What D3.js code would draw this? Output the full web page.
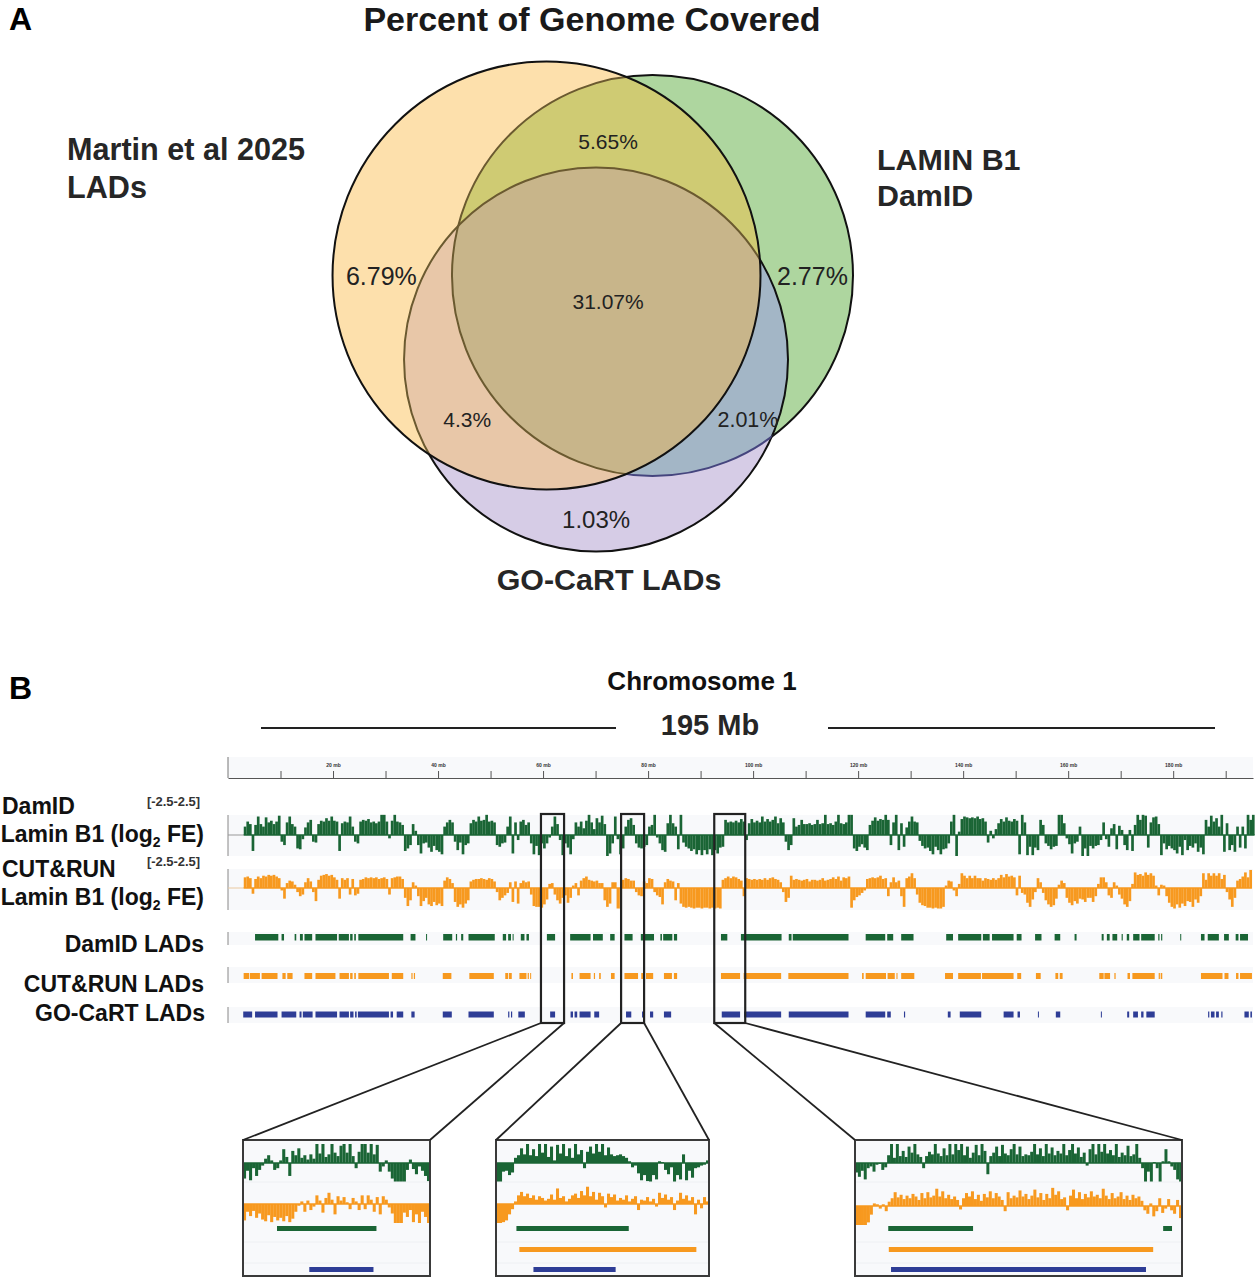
<!DOCTYPE html>
<html><head><meta charset="utf-8">
<script src="https://cdn.jsdelivr.net/npm/d3@7/dist/d3.min.js"></script>
<style>html,body{margin:0;padding:0;background:#fff}svg{display:block}text{font-family:"Liberation Sans",Arial,sans-serif}</style>
</head><body><svg id="c" width="1255" height="1280"></svg>
<script>
// ---------- Panel A data ----------
const vennNames = ["Martin et al 2025 LADs","LAMIN B1 DamID","GO-CaRT LADs"];
const vennCx = [41.06,61.44,50.58];
const vennCy = [41.25,41.25,57.4];
const vennR  = [41.15,38.56,36.92];
const vennLabels = ["6.79%","5.65%","2.77%","31.07%","4.3%","2.01%","1.03%"];
const vennLabelX = [9.3,52.9,92.2,52.9,25.8,79.8,50.6];
const vennLabelY = [41.4,15.4,41.4,46.2,69.0,69.0,88.1];
const vennLabelSize = [25,21,25,21,21,21.5,24];

// ---------- Panel B data ----------
const axisTicks = [10,20,30,40,50,60,70,80,90,100,110,120,130,140,150,160,170,180,190];
const signalStartMb = 3, signalBinMb = 0.5;
const damidSignal = [
1.0,1.6,1.3,-1.9,1.2,2.2,1.3,1.0,2.1,1.5,1.7,1.3,1.6,2.3,-0.8,-1.2,1.5,2.2,1.3,1.0,
-1.6,-1.7,-0.5,0.9,1.5,1.8,-0.8,-0.9,1.3,1.7,1.6,2.0,1.7,2.2,1.7,1.6,-1.9,1.4,1.6,1.5,
2.2,1.0,-0.8,-1.0,1.6,1.8,1.7,1.9,1.5,1.6,1.4,1.6,2.4,2.4,1.6,-0.4,1.7,2.4,1.6,1.5,
1.2,-1.9,-1.6,-1.2,1.3,0.5,-1.2,-2.2,-1.0,-0.9,-1.5,-2.0,-1.3,-1.8,-2.0,-2.3,1.0,1.5,1.8,1.5,
-0.8,-1.8,-0.9,-2.3,-1.2,-1.0,1.4,1.8,1.6,2.2,1.7,1.8,2.4,1.6,1.7,1.5,-1.2,-1.4,-1.0,-0.9,
1.0,2.2,-2.2,1.5,-0.6,1.6,1.8,1.2,1.5,-1.0,-2.3,-1.3,-2.4,-1.0,-1.6,-1.0,-0.3,1.0,2.2,1.3,
-0.6,-2.4,-1.0,-1.5,-2.3,-0.5,1.5,1.0,1.6,0.8,1.7,2.4,1.5,0.7,2.0,1.5,2.3,1.3,-2.5,-2.2,
-1.0,2.2,-0.5,-2.3,-1.6,1.0,1.8,2.0,1.2,-1.0,-1.5,-1.6,-1.4,-1.2,1.0,1.2,2.4,-0.3,-1.0,-1.8,
-2.0,1.4,2.4,1.4,1.0,-1.7,2.4,-0.9,-1.4,-1.6,-1.9,-1.7,-2.3,-1.8,-2.4,-1.8,-2.3,-1.7,-2.4,-1.8,
-2.2,-1.5,-1.4,1.8,1.5,1.6,1.5,1.7,1.5,1.9,1.6,-0.6,1.4,1.9,1.5,1.7,1.5,2.2,1.6,1.9,
1.6,1.8,2.2,1.4,2.0,1.5,-0.8,-1.8,-1.2,2.0,1.0,1.2,1.8,1.3,1.3,1.4,1.2,1.3,1.8,1.3,
1.4,2.4,1.3,1.4,1.2,1.6,2.4,1.4,1.3,1.5,2.4,2.4,-1.6,-1.9,-1.4,-1.1,-1.5,-1.8,1.2,1.7,
2.1,1.7,1.9,1.8,2.4,1.8,-1.2,1.5,2.4,-1.8,1.4,-1.4,0.9,1.6,2.2,1.6,1.5,-0.7,-1.3,-1.6,
-1.5,-1.9,-2.3,-1.4,-1.8,-2.3,-1.7,-1.6,-1.0,1.6,2.4,-2.5,0.4,1.9,2.2,2.1,2.0,2.1,2.0,2.2,
1.9,2.0,1.6,-0.9,0.5,-0.4,0.7,1.4,1.9,1.6,2.1,1.7,1.6,1.9,1.7,-2.3,2.4,1.5,-2.4,-1.4,
-2.4,-1.5,-1.8,1.8,1.2,-1.0,-1.3,-1.7,-1.4,-1.3,2.4,2.4,1.4,-0.4,-1.1,-2.2,-1.0,-0.8,1.0,-2.5,
-1.6,-2.5,-1.3,-1.6,-1.3,-1.2,-0.6,1.5,-0.5,-1.4,0.8,1.3,-1.7,1.1,0.6,-1.2,-1.8,0.6,-1.9,1.2,
2.4,1.8,2.4,2.3,-1.5,1.5,2.1,2.2,1.3,-2.4,-1.0,-1.7,-1.3,-1.6,-1.8,-2.2,-1.4,-2.4,-0.6,-1.8,
-1.3,-1.5,-1.0,-2.0,-1.5,-2.3,1.8,1.0,2.3,1.6,2.0,1.0,2.4,-2.0,1.4,-1.8,-1.2,-2.0,1.0,-1.5,
1.0,-1.6,2.4,1.8,2.4];
const cutrunSignal = [
1.3,1.4,1.2,-0.7,1.1,1.4,1.2,1.5,1.4,1.6,1.5,1.6,1.4,1.2,-0.3,-1.3,0.6,0.9,0.8,0.4,
-0.5,-1.0,-0.8,0.7,1.2,0.8,-0.5,-1.6,1.0,1.5,1.6,1.7,1.5,1.6,1.3,1.0,-1.3,1.2,1.0,1.2,
-0.8,1.1,-0.9,-0.7,1.0,1.1,1.3,1.2,1.3,1.2,1.3,1.1,1.2,1.3,1.1,-0.8,1.2,1.3,1.4,1.4,
1.1,-1.2,-2.2,-1.5,0.7,0.3,-1.0,-2.2,-1.6,-1.2,-2.0,-2.2,-1.7,-2.1,-1.9,-2.2,0.9,1.3,1.1,0.6,
-1.7,-2.3,-2.0,-2.4,-1.9,-1.5,0.8,1.0,1.1,1.1,1.2,1.1,1.0,1.2,1.1,0.8,-0.5,-1.5,-1.2,-0.9,
-0.6,0.7,-1.7,0.8,-1.9,0.6,0.9,0.7,0.8,-0.8,-2.2,-2.3,-2.3,-2.4,-2.0,-1.4,0.5,0.6,-0.8,-1.5,
-1.9,-1.2,-0.9,-1.8,-1.2,0.3,0.6,-0.9,0.9,1.2,1.4,1.0,0.9,0.8,0.9,0.6,0.6,-1.5,-2.3,-1.9,
0.7,0.7,-2.5,-2.5,1.0,1.2,1.1,0.9,0.9,-0.5,-0.9,-1.0,0.8,0.6,1.2,1.1,-0.5,-0.9,-1.1,-2.0,
0.7,1.1,0.9,0.8,-1.5,0.6,-1.9,-2.3,-2.4,-2.3,-2.4,-2.5,-2.4,-2.4,-2.5,-2.4,-2.4,-2.5,-2.4,-2.5,
-2.4,-2.5,1.0,1.2,1.4,1.2,1.4,1.3,1.1,0.9,-1.0,1.2,1.1,1.0,1.1,1.0,1.1,1.0,1.2,1.0,
1.2,1.3,1.1,1.0,0.7,-0.5,-1.7,-1.2,1.5,1.0,1.1,1.0,0.9,1.0,1.1,0.8,1.0,1.0,0.9,1.0,
1.2,0.9,1.0,1.1,1.3,1.1,1.4,0.9,1.3,1.2,1.4,-2.4,-1.5,-1.1,-0.9,-0.6,-0.3,1.1,1.2,1.3,
1.2,1.3,1.5,1.1,1.2,-1.0,0.7,1.3,0.7,0.9,-1.0,-2.3,1.2,1.4,1.8,1.2,-0.8,-1.8,-2.1,-2.2,
-2.4,-2.4,-2.5,-2.4,-2.5,-2.5,-2.3,0.3,0.9,0.8,-0.3,-1.0,0.5,1.8,1.5,1.2,1.5,1.2,1.5,1.2,
1.2,0.9,1.2,1.1,1.0,1.2,1.0,1.2,1.6,1.3,1.7,1.4,1.5,1.3,-0.9,1.5,-0.6,-0.8,-1.8,-2.3,
-1.4,-0.5,1.2,0.7,-0.6,-1.5,-2.0,-2.3,-2.1,-1.3,0.4,0.9,0.6,-1.2,-1.8,-2.1,-1.6,-1.9,-1.3,-1.4,
-1.7,-1.2,-1.2,-1.7,-1.0,0.5,1.3,1.3,0.7,-0.9,-1.2,0.7,0.3,-0.8,-1.3,-2.0,-2.3,-1.6,0.5,1.9,
1.6,1.7,1.5,1.9,1.6,1.8,1.5,0.3,-0.9,0.4,0.3,-1.0,-1.8,-2.3,-2.5,-2.0,-2.4,-1.9,-2.2,-1.6,
-1.7,-2.3,-1.4,-1.8,-1.0,1.8,1.0,1.8,1.5,1.8,1.5,1.8,1.1,1.6,-0.5,-1.4,-2.3,-1.2,0.9,1.1,
1.4,1.9,1.3,2.2];

const damidStart = [5.15,10.2,12.69,13.7,14.56,16.66,21.09,23.26,24.04,24.82,34.77,37.72,40.98,43.4,44.4,45.8,52.33,53.35,54.2,55.76,56.84,60.73,65.16,69.51,72.78,75.5,78.62,82.34,82.87,84.92,93.88,97.68,106.79,107.55,121.44,125.54,128.2,136.77,139.05,143.76,145.5,150.2,153.7,157.42,161.22,166.38,167.37,168.43,170.18,171.16,172.38,173.9,177.16,177.7,181.34,185.29,186.58,189.69,191.9,192.73];
const damidEnd   = [9.58,10.67,13.0,14.25,16.03,20.77,23.03,23.73,24.35,33.37,35.7,37.88,42.7,43.63,44.8,50.8,52.96,53.89,54.35,56.46,57.31,62.29,69.05,71.38,73.63,77.05,81.13,82.64,84.62,85.53,95.09,105.42,107.32,118.17,125.16,126.68,130.55,138.07,143.45,145.05,149.6,151.12,154.92,158.49,161.6,166.76,167.9,169.34,170.4,171.62,173.59,176.48,177.39,177.92,181.5,185.97,188.7,190.6,192.43,194.25];
const cutrunStart = [2.98,4.14,6.4,10.36,11.29,14.56,16.66,21.24,23.26,24.04,24.82,31.19,34.92,35.39,40.9,45.96,52.8,53.5,55.5,57.07,57.54,65.4,66.95,69.67,70.68,72.93,75.5,78.7,79.6,83.02,84.92,93.88,98.2,106.71,120.75,121.44,125.61,127.3,128.2,136.55,139.05,143.6,150.3,153.86,157.57,158.4,165.93,166.9,168.8,171.3,172.23,177.24,177.62,185.29,189.77,191.97,192.73];
const cutrunEnd   = [4.0,6.08,9.43,10.98,12.3,16.03,20.46,23.03,23.73,24.35,30.65,33.37,35.15,35.62,42.54,50.62,53.35,54.04,56.84,57.3,57.7,65.7,69.05,69.9,70.99,73.63,78.09,79.3,80.97,84.54,85.53,97.52,105.34,118.17,121.06,125.31,126.98,127.5,130.7,138.07,143.38,149.6,151.05,154.77,158.1,158.94,166.76,167.98,169.04,171.77,176.48,177.47,177.92,189.39,190.53,192.43,195];
const gocartStart = [2.9,5.15,10.2,13.62,14.25,16.66,21.24,23.26,24.2,24.74,30.96,32.13,34.92,40.9,45.8,53.35,53.89,55.29,61.35,65.24,66.0,66.95,69.75,75.8,78.85,80.37,83.02,94.03,98.28,106.79,121.44,125.54,128.73,137.08,139.36,147.71,150.36,154.24,157.65,166.23,171.24,172.38,173.9,174.89,186.65,187.19,188.17,189.16,193.57,194.7];
const gocartEnd   = [4.6,9.43,13.0,14.0,16.11,20.77,23.03,23.9,24.5,30.65,31.43,33.37,35.54,42.62,50.62,53.58,54.12,56.53,62.29,65.7,66.5,69.05,70.68,76.8,79.38,80.97,84.39,97.52,105.34,118.17,125.16,126.22,128.95,137.61,143.45,149.6,150.82,154.39,158.49,166.38,171.62,173.29,174.35,176.48,186.88,187.87,188.7,189.39,194.4,195];

const zoomStart = [59.6,74.86,92.6];
const zoomEnd   = [64.0,79.24,98.5];

const inset1Damid = [-1.8,-0.9,-2.0,-0.6,-1.5,-0.8,-0.3,0.5,0.9,0.3,-0.8,-0.6,0.3,1.6,0.7,-1.5,1.4,0.9,1.7,0.6,0.9,0.4,1.0,0.5,2.3,1.1,2.4,0.7,1.0,2.3,1.2,0.8,2.0,2.4,1.2,2.2,0.8,-0.6,1.3,2.4,2.4,1.2,2.2,1.0,2.1,-1.0,-0.4,0.3,-1.0,-1.8,-2.3,-2.4,-2.3,-2.4,-0.8,0.4,-0.7,-1.3,-0.4,-0.9,-1.5,-2.1];
const inset1Cutrun = [-1.9,-0.9,-1.4,-0.8,-1.6,-1.1,-1.8,-2.0,-1.3,-2.1,-1.5,-1.9,-1.6,-2.0,-1.4,-2.1,-1.7,-0.9,-0.2,0.3,-0.9,0.4,-0.7,-0.3,1.0,0.4,-1.0,0.7,1.3,0.5,-1.2,0.9,0.4,0.8,0.2,-0.6,0.7,0.3,-0.7,1.0,-0.6,1.0,0.5,-0.9,0.8,-1.2,0.9,0.5,-0.4,-1.1,-2.2,-2.4,-2.3,-1.0,-1.5,-0.7,-2.1,-1.2,-2.3,-0.9,-1.5,-2.2];
const inset2Damid = [-2.3,-2.3,-1.0,-0.9,-1.4,-1.1,0.6,0.9,1.7,1.0,2.3,0.9,1.6,0.8,2.2,1.2,2.2,0.7,1.9,0.3,2.1,1.1,2.3,0.8,1.7,0.6,2.2,1.0,1.5,-0.6,1.3,1.9,1.1,2.3,1.3,2.3,0.9,1.8,1.0,0.8,0.9,1.0,0.8,0.6,0.2,-0.5,-0.3,-1.2,-2.0,-1.4,-2.1,-2.4,-1.4,-1.9,0.2,0.1,-0.8,-1.3,-0.5,-2.2,-1.4,-1.9,1.0,-2.0,-0.9,-1.7,-0.6,-0.5,-0.3,-0.2,0.3];
const inset2Cutrun = [-2.4,-2.3,-2.1,-1.9,-1.2,-0.6,0.3,1.0,1.4,0.9,1.2,0.7,1.0,0.5,0.9,0.7,0.4,0.6,1.1,0.5,1.8,0.7,0.9,0.3,0.6,1.0,1.2,0.7,1.5,1.0,2.0,0.9,1.4,0.5,1.3,0.9,-0.4,1.2,0.8,1.1,0.4,0.7,0.5,1.0,0.3,0.6,0.9,-0.7,0.5,0.4,0.8,0.3,0.6,-0.3,1.3,0.7,1.1,0.5,0.8,-0.7,0.4,1.3,0.6,1.0,0.4,0.8,-1.2,0.5,-0.5,0.8,0.3];
const inset3Damid = [-1.1,-1.6,-0.9,-1.9,-0.6,-0.4,-1.0,-0.2,-0.1,-0.8,-0.5,0.9,2.3,0.6,2.4,0.8,1.4,0.7,1.9,1.2,2.4,1.0,0.7,-0.6,0.8,1.3,1.0,2.2,1.1,0.8,1.7,0.9,2.4,1.0,2.4,1.5,2.4,0.9,1.9,0.6,1.2,2.1,0.9,2.4,1.4,-1.3,0.8,1.2,1.9,0.8,2.1,1.1,0.9,1.6,2.4,1.0,1.9,0.8,1.0,0.9,1.3,2.4,1.0,1.7,0.8,2.3,1.1,1.8,0.9,1.4,1.1,2.2,0.9,1.5,2.4,1.1,1.8,0.7,1.2,-0.3,1.6,2.3,1.0,2.4,1.3,2.4,1.1,1.5,0.9,2.4,0.7,1.2,0.9,2.0,0.8,1.0,2.2,0.6,-0.6,-2.3,-1.0,-2.3,0.1,-0.6,-2.2,0.2,1.6,0.2,-0.4,-0.8,-1.9,-2.2];
const inset3Cutrun = [-2.4,-2.5,-2.3,-2.4,-1.9,-1.0,0.3,0.2,-0.3,0.2,-0.6,0.5,0.9,1.6,1.0,1.3,0.8,1.2,0.9,1.4,1.1,0.7,1.5,0.9,1.6,1.0,1.2,2.0,1.1,1.7,0.9,1.3,0.8,1.1,0.7,-0.4,0.9,1.5,1.1,1.7,0.8,1.3,0.6,1.4,1.0,1.7,0.9,1.5,1.1,0.7,-0.6,1.6,0.9,1.2,1.0,1.8,1.1,1.4,0.8,1.2,1.9,1.0,1.5,0.7,1.4,0.9,2.1,1.3,1.7,0.8,1.0,-0.5,1.2,1.9,0.9,1.6,0.8,1.4,1.0,1.7,1.1,1.3,0.9,2.0,1.2,0.8,1.5,0.9,1.1,1.6,0.8,1.2,0.7,1.3,0.9,1.1,0.6,-0.5,-0.9,0.3,-1.2,-0.6,0.9,-0.8,-0.3,0.8,-0.5,-0.9,0.7,-1.4];

// ---------- Drawing ----------
const svg = d3.select("#c");
const COL = {green:"#1a6535",orange:"#f7991f",blue:"#2e3d96",track:"#f8f9fb",ink:"#262626"};
function txt(x,y,s,size,opt={}){
  return svg.append("text").attr("x",x).attr("y",y).text(s)
    .attr("font-size",size).attr("font-weight",opt.bold===false?400:700)
    .attr("text-anchor",opt.anchor||"start").attr("fill",opt.fill||COL.ink);
}

// Panel A
const ux = d3.scaleLinear().domain([0,100]).range([333,853]);
const uy = d3.scaleLinear().domain([0,100]).range([61,581]);
const ur = d3.scaleLinear().domain([0,100]).range([0,520]);
const defs = svg.append("defs");
const circ = (sel,i)=>sel.append("circle").attr("cx",ux(vennCx[i])).attr("cy",uy(vennCy[i])).attr("r",ur(vennR[i]));
["Y","G","P"].forEach((n,i)=>circ(defs.append("clipPath").attr("id","clip"+n),i));
const maskOut=(id,list)=>{const m=defs.append("mask").attr("id",id).attr("maskUnits","userSpaceOnUse").attr("x",0).attr("y",0).attr("width",1255).attr("height",1280);
  m.append("rect").attr("width",1255).attr("height",1280).attr("fill","#fff");
  list.forEach(i=>circ(m,i).attr("fill","#000"));};
maskOut("outY",[0]); maskOut("outYP",[0,2]);
const venn = svg.append("g");
circ(venn,0).attr("fill","#fde0ac");
circ(venn,1).attr("fill","#aed69f");
circ(venn,2).attr("fill","#d6cce6");
const clipped = (outer,inner)=>{const g=venn.append("g").attr("clip-path",`url(#clip${outer})`);return inner?g.append("g").attr("clip-path",`url(#clip${inner})`):g;};
circ(clipped("Y"),1).attr("fill","#cfcb73");
circ(clipped("Y"),2).attr("fill","#e8c7a8");
circ(clipped("G"),2).attr("fill","#a3b6c6");
circ(clipped("Y","G"),2).attr("fill","#c8b58a");
circ(venn,1).attr("fill","none").attr("stroke","#111").attr("stroke-width",2).attr("mask","url(#outYP)");
circ(venn,2).attr("fill","none").attr("stroke","#111").attr("stroke-width",2).attr("mask","url(#outY)");
circ(venn.append("g").attr("mask","url(#outY)").append("g").attr("clip-path","url(#clipP)"),1).attr("fill","none").attr("stroke","#45457e").attr("stroke-width",2);
circ(clipped("Y"),1).attr("fill","none").attr("stroke","#6b5a30").attr("stroke-width",2);
circ(clipped("Y"),2).attr("fill","none").attr("stroke","#6b5a30").attr("stroke-width",2);
circ(venn,0).attr("fill","none").attr("stroke","#111").attr("stroke-width",2);
vennLabels.forEach((l,i)=>txt(ux(vennLabelX[i]),uy(vennLabelY[i]),l,vennLabelSize[i],{bold:false,anchor:"middle",fill:"#222"}).attr("dominant-baseline","central"));

txt(9,30,"A",32,{fill:"#000"});
txt(592,31,"Percent of Genome Covered",34,{anchor:"middle",fill:"#1a1a1a"});
txt(67,160,"Martin et al 2025",30.6);
txt(67,198,"LADs",30.6);
txt(877,170,"LAMIN B1",30.4);
txt(877,206,"DamID",30.4);
txt(609,590,"GO-CaRT LADs",30.4,{anchor:"middle"});

// Panel B
const x = d3.scaleLinear().domain([0,195.2]).range([228,1253]);
txt(9,699,"B",32,{fill:"#000"});
txt(702,690,"Chromosome 1",26,{anchor:"middle",fill:"#111"});
txt(710,735,"195 Mb",29,{anchor:"middle"});
[[261,616],[828,1215]].forEach(p=>svg.append("line").attr("x1",p[0]).attr("x2",p[1]).attr("y1",728).attr("y2",728).attr("stroke","#222").attr("stroke-width",2));

// top ruler
svg.append("rect").attr("x",228).attr("y",757).attr("width",1025).attr("height",21).attr("fill",COL.track);
const axis = d3.axisTop(x).tickValues(axisTicks).tickSize(7).tickPadding(4).tickSizeOuter(0)
  .tickFormat(d=>d%20===0?d+" mb":"");
const axG = svg.append("g").attr("transform","translate(0,778)").call(axis);
axG.selectAll("path.domain").attr("stroke","#555").attr("stroke-width",1.2);
axG.selectAll("line").attr("stroke","#555");
axG.selectAll("text").attr("font-size",5).attr("font-weight",700).attr("fill","#333")
   .attr("font-family","Liberation Sans");
svg.append("line").attr("x1",228).attr("x2",228).attr("y1",757).attr("y2",778).attr("stroke","#777");

// track labels
function log2Label(y){
  const t=svg.append("text").attr("x",204).attr("y",y).attr("text-anchor","end")
    .attr("font-size",23).attr("font-weight",700).attr("fill","#111");
  t.append("tspan").text("Lamin B1 (log");
  t.append("tspan").text("2").attr("font-size",14).attr("dy",5);
  t.append("tspan").text(" FE)").attr("dy",-5);
}
txt(2,814,"DamID",23,{fill:"#111"});
log2Label(842);
txt(2,877,"CUT&RUN",23,{fill:"#111"});
log2Label(905);
txt(147,806,"[-2.5-2.5]",13,{fill:"#333"}).attr("textLength",53);
txt(147,866,"[-2.5-2.5]",13,{fill:"#333"}).attr("textLength",53);
txt(204,952,"DamID LADs",23,{anchor:"end",fill:"#111"});
txt(204,992,"CUT&RUN LADs",23,{anchor:"end",fill:"#111"});
txt(205,1021,"GO-CaRT LADs",23,{anchor:"end",fill:"#111"});

// signal tracks
function signal(vals,base,half,col,xs,binStart,binW,lim){
  const g=svg.append("g");
  const y=d3.scaleLinear().domain([-lim,lim]).range([base+half,base-half]).clamp(true);
  g.selectAll("rect").data(vals).join("rect")
    .attr("x",(d,i)=>xs(binStart+i*binW))
    .attr("width",(d,i)=>xs(binStart+(i+1)*binW)-xs(binStart+i*binW)+0.05)
    .attr("y",d=>Math.min(y(d),y(0)))
    .attr("height",d=>Math.abs(y(d)-y(0)))
    .attr("fill",col);
  g.append("line").attr("x1",xs(binStart)).attr("x2",xs(binStart+vals.length*binW))
    .attr("y1",y(0)).attr("y2",y(0)).attr("stroke",col).attr("stroke-width",1.4);
}
function bg(y0,y1){
  svg.append("rect").attr("x",228).attr("y",y0).attr("width",1025).attr("height",y1-y0).attr("fill",COL.track);
  svg.append("line").attr("x1",228).attr("x2",228).attr("y1",y0).attr("y2",y1).attr("stroke","#888").attr("stroke-width",1);
}
bg(815,856); bg(869,910); bg(932,945); bg(967,983); bg(1007,1023);
svg.append("line").attr("x1",228).attr("x2",244).attr("y1",835).attr("y2",835).attr("stroke","#999");
svg.append("line").attr("x1",228).attr("x2",244).attr("y1",888).attr("y2",888).attr("stroke","#eac9a0");
signal(damidSignal,835,21,COL.green,x,signalStartMb,signalBinMb,2.5);
signal(cutrunSignal,888,20.5,COL.orange,x,signalStartMb,signalBinMb,2.5);

function lads(starts,ends,y0,h,col,xs){
  svg.append("g").selectAll("rect").data(starts).join("rect")
    .attr("x",d=>xs(d)).attr("y",y0).attr("height",h)
    .attr("width",(d,i)=>Math.max(1,xs(ends[i])-xs(d))).attr("fill",col);
}
lads(damidStart,damidEnd,934,6.5,COL.green,x);
lads(cutrunStart,cutrunEnd,973,6,COL.orange,x);
lads(gocartStart,gocartEnd,1011.5,6,COL.blue,x);

// insets
const insetLeft=[243,496,855], insetRight=[430,709,1182];
const insetDamid=[inset1Damid,inset2Damid,inset3Damid], insetCutrun=[inset1Cutrun,inset2Cutrun,inset3Cutrun];
zoomStart.forEach((s,k)=>{
  const e=zoomEnd[k];
  svg.append("rect").attr("x",insetLeft[k]).attr("y",1140).attr("width",insetRight[k]-insetLeft[k]).attr("height",136).attr("fill",COL.track);
  const xi=d3.scaleLinear().domain([s,e]).range([insetLeft[k],insetRight[k]]);
  const bw=(e-s)/insetDamid[k].length, bc=(e-s)/insetCutrun[k].length;
  signal(insetDamid[k],1163,19,COL.green,xi,s,bw,2.2);
  signal(insetCutrun[k],k===2?1206:1204,19,COL.orange,xi,s,bc,2.2);
  [[1182,"#eef0f3"],[1242,"#eef0f3"],[1263,"#eef0f3"]].forEach(r=>svg.append("line").attr("x1",insetLeft[k]).attr("x2",insetRight[k]).attr("y1",r[0]).attr("y2",r[0]).attr("stroke",r[1]));
  const bar=(list,y,col)=>svg.append("g").selectAll("rect").data(list).join("rect").attr("x",d=>xi(d[0])).attr("width",d=>xi(d[1])-xi(d[0])).attr("y",y).attr("height",5).attr("fill",col);
  bar(k===0?[[60.4,62.74]]:k===1?[[75.28,77.59]]:[[93.2,94.73],[98.16,98.32]],1226,COL.green);
  if(k>0) bar(k===1?[[75.34,78.98]]:[[93.21,97.98]],1247,COL.orange);
  bar(k===0?[[61.16,62.67]]:k===1?[[75.63,77.32]]:[[93.25,97.85]],1267,COL.blue);
  svg.append("rect").attr("x",insetLeft[k]).attr("y",1140).attr("width",insetRight[k]-insetLeft[k]).attr("height",136).attr("fill","none").attr("stroke","#3a3a3a").attr("stroke-width",2);
  svg.append("rect").attr("x",x(s)).attr("y",814).attr("width",x(e)-x(s)).attr("height",209).attr("fill","none").attr("stroke","#222").attr("stroke-width",2.2);
  [[x(s),insetLeft[k]],[x(e),insetRight[k]]].forEach(p=>svg.append("line").attr("x1",p[0]).attr("y1",1023).attr("x2",p[1]).attr("y2",1140).attr("stroke","#222").attr("stroke-width",1.8));
});
</script></body></html>
